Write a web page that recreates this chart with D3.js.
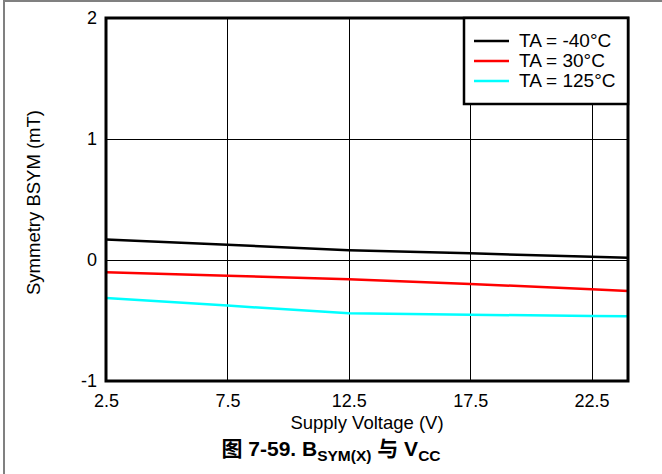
<!DOCTYPE html>
<html><head><meta charset="utf-8">
<script src="https://cdn.jsdelivr.net/npm/d3@7"></script>
<style>body{margin:0;background:#fff}svg{display:block;font-family:"Liberation Sans",Arial,Helvetica,sans-serif}</style>
</head><body><svg id="c" width="662" height="474"></svg>
<script>
const voltages = [2.5, 7.5, 12.5, 17.5, 22.5, 24];
const seriesNames = ["TA = -40°C", "TA = 30°C", "TA = 125°C"];
const seriesColors = ["#000000", "#ff0000", "#00ffff"];
const bsymM40 = [0.17, 0.126, 0.08, 0.055, 0.027, 0.019];
const bsym30 = [-0.102, -0.13, -0.16, -0.198, -0.242, -0.256];
const bsym125 = [-0.314, -0.377, -0.44, -0.452, -0.463, -0.465];
const xTicks = [2.5, 7.5, 12.5, 17.5, 22.5];
const yTicks = [-1, 0, 1, 2];
const seriesValues = [bsymM40, bsym30, bsym125];

const svg = d3.select("#c");
const L = 106, R = 628, T = 18, B = 381;
const x = d3.scaleLinear().domain([2.5, 24]).range([L, R]);
const y = d3.scaleLinear().domain([-1, 2]).range([B, T]);

// outer frame
svg.append("line").attr("x1",4).attr("x2",4).attr("y1",0).attr("y2",474).attr("stroke","#808080").attr("stroke-width",2);
svg.append("line").attr("x1",3).attr("x2",662).attr("y1",1).attr("y2",1).attr("stroke","#808080").attr("stroke-width",2);

// grid
const g = svg.append("g");
g.selectAll("line.vx").data(xTicks.slice(1)).join("line")
  .attr("x1",d=>Math.round(x(d))+0.5).attr("x2",d=>Math.round(x(d))+0.5).attr("y1",T).attr("y2",B)
  .attr("stroke","#000").attr("stroke-width",1);
g.selectAll("line.hy").data([0,1]).join("line")
  .attr("y1",d=>Math.round(y(d))+0.5).attr("y2",d=>Math.round(y(d))+0.5).attr("x1",L).attr("x2",R)
  .attr("stroke","#000").attr("stroke-width",1);

// axes
const xAxis = svg.append("g").attr("transform",`translate(0,${B})`)
  .call(d3.axisBottom(x).tickValues(xTicks).tickSize(0).tickPadding(13).tickFormat(d=>d.toFixed(1)));
const yAxis = svg.append("g").attr("transform",`translate(${L},0)`)
  .call(d3.axisLeft(y).tickValues(yTicks).tickSize(0).tickPadding(9).tickFormat(d=>String(d)));
[xAxis,yAxis].forEach(a=>{a.select(".domain").remove();a.selectAll("text").attr("font-size",18).attr("fill","#000").attr("font-family","'Liberation Sans',Arial,sans-serif");});

// lines
const line = d3.line().x((d,i)=>x(voltages[i])).y(d=>y(d));
svg.append("g").selectAll("path").data(seriesValues).join("path")
  .attr("d",line).attr("fill","none").attr("stroke",(d,i)=>seriesColors[i]).attr("stroke-width",2.5);

// plot frame
svg.append("rect").attr("x",L).attr("y",T).attr("width",R-L).attr("height",B-T)
  .attr("fill","none").attr("stroke","#000").attr("stroke-width",3);

// legend
const lg = svg.append("g");
lg.append("rect").attr("x",464).attr("y",T).attr("width",R-464).attr("height",86)
  .attr("fill","#fff").attr("stroke","#000").attr("stroke-width",2.5);
seriesNames.forEach((n,i)=>{
  const yy = 41 + i*20;
  lg.append("line").attr("x1",474).attr("x2",509).attr("y1",yy).attr("y2",yy).attr("stroke",seriesColors[i]).attr("stroke-width",2.5);
  lg.append("text").attr("x",519).attr("y",yy+6).attr("font-size",19).text(n);
});

// axis titles
svg.append("text").attr("x",(L+R)/2).attr("y",429).attr("text-anchor","middle").attr("font-size",18.5).text("Supply Voltage (V)");
svg.append("text").attr("transform",`translate(40,${(T+B)/2+3}) rotate(-90)`).attr("text-anchor","middle").attr("font-size",18.5).text("Symmetry BSYM (mT)");

// caption
const cap = svg.append("text").attr("x",331).attr("y",456).attr("text-anchor","middle").attr("font-size",21).attr("font-weight","bold")
  .attr("font-family","'Liberation Sans','Noto Sans CJK SC',sans-serif");
cap.append("tspan").text("图 7-59. B");
cap.append("tspan").attr("font-size",15.5).attr("dy",5).text("SYM(X)");
cap.append("tspan").attr("dy",-5).text(" 与 V");
cap.append("tspan").attr("font-size",15.5).attr("dy",5).text("CC");
</script></body></html>
